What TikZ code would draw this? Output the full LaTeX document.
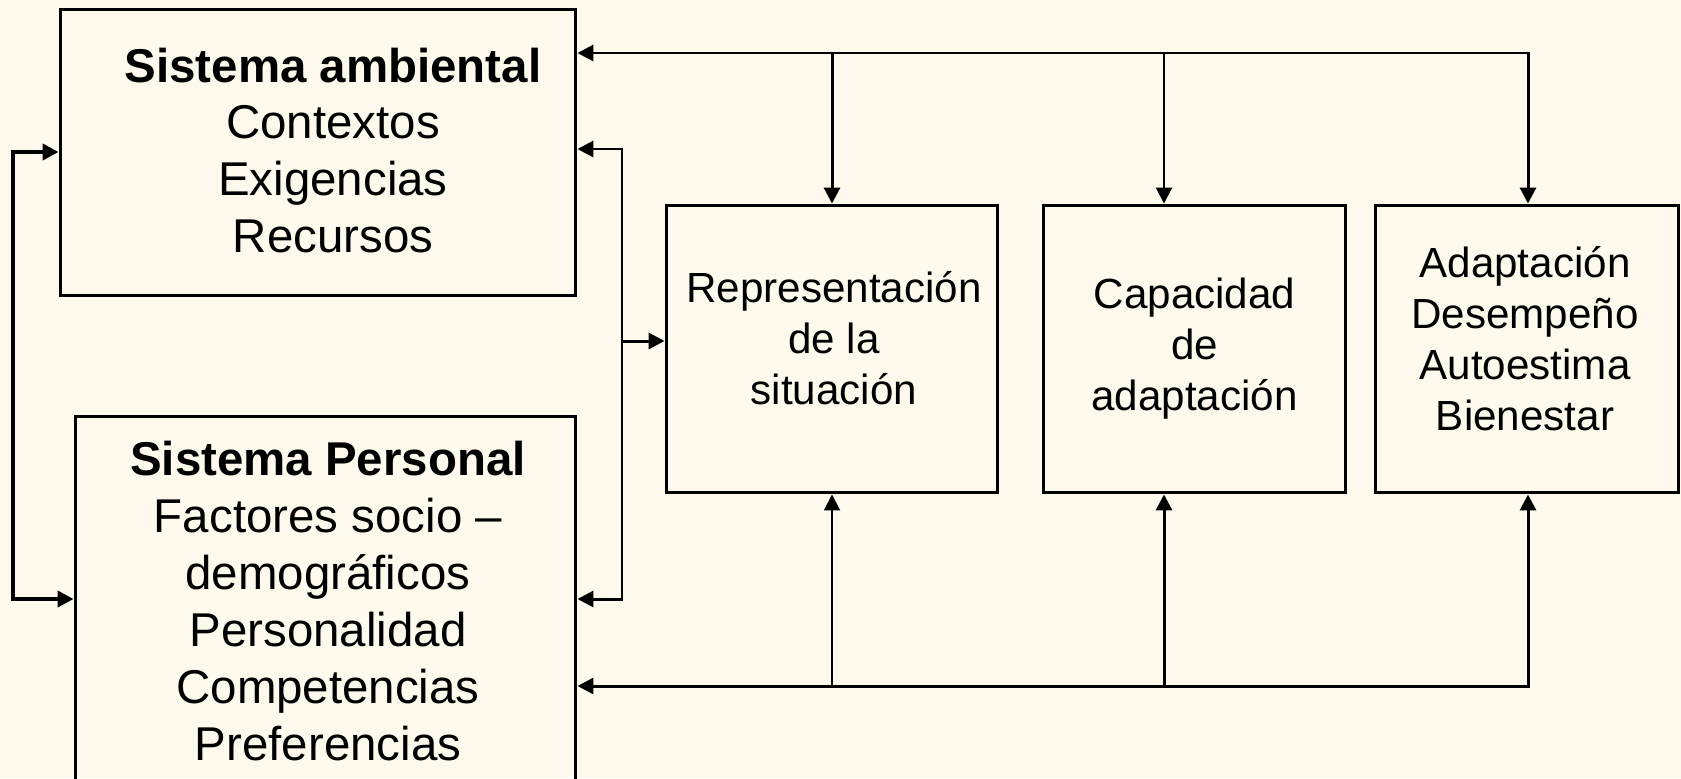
\documentclass[tikz,border=0pt]{standalone}
\usepackage{fontspec}
\setmainfont{Liberation Sans}
\usetikzlibrary{arrows.meta}
\definecolor{paper}{HTML}{FDF9EC}

\begin{document}
\begin{tikzpicture}[x=0.02cm, y=-0.02cm,
    >={Triangle[length=0.32cm, width=0.32cm]},
    box/.style={draw, line width=1.7pt, inner sep=0pt},
    txt/.style={align=center, font=\fontsize{27}{32.4}\selectfont},
    smalltxt/.style={align=center, font=\fontsize{24}{29}\selectfont},
    conn/.style={line width=1.7pt},
    thinconn/.style={line width=1.1pt},
    thickconn/.style={line width=2.3pt}]

    % --- Page and background ---
    \useasboundingbox (0,0) rectangle (1681,778);
    \clip (0,0) rectangle (1681,778);
    \fill[paper] (0,0) rectangle (1681,778);

    % --- Left boxes (text placed on its own) ---
    \node[box, minimum width=10.32cm, minimum height=5.74cm] (sa) at (318,152.5) {};
    \node[txt] (satext) at (333,150.5)
        {\textbf{Sistema ambiental}\\Contextos\\Exigencias\\Recursos};

    % the personal box runs past the bottom edge
    \node[box, minimum width=10.02cm, minimum height=8.16cm] (sp) at (325.5,620) {};
    \node[txt] (sptext) at (328,601)
        {\textbf{Sistema Personal}\\Factores socio –\\demográficos\\Personalidad\\Competencias\\Preferencias};

    % --- Right boxes ---
    \node[box, minimum width=6.64cm, minimum height=5.76cm] (rep) at (832,349) {};
    \node[smalltxt] (reptext) at (834,338) {Representación\\de la\\situación};
    \node[box, minimum width=6.06cm, minimum height=5.76cm] (cap) at (1194.5,349) {};
    \node[smalltxt] (captext) at (1194.5,349) {Capacidad\\de\\adaptación};
    \node[box, minimum width=6.08cm, minimum height=5.76cm] (ad) at (1527,349) {};
    \node[smalltxt] (adtext) at (1525,339) {Adaptación\\Desempeño\\Autoestima\\Bienestar};

    % --- Top bus ---
    \coordinate (tr) at (1528,53);
    \coordinate (capx) at (1164,0);
    \draw[conn,<->] (sa.east |- tr) -- (tr) -- (tr |- ad.north);
    \draw[conn,->] (rep.north |- tr) -- (rep.north);
    \draw[thinconn,->] (capx |- tr) -- (capx |- cap.north);

    % --- Bottom bus ---
    \coordinate (br) at (1528,686);
    \draw[conn,<->] (sp.east |- br) -- (br) -- (br |- ad.south);
    \draw[thinconn,->] (rep.south |- br) -- (rep.south);
    \draw[conn,->] (capx |- br) -- (capx |- cap.south);

    % --- Right bracket between the systems ---
    \coordinate (rt) at (622,149);
    \coordinate (rb) at (622,599);
    \coordinate (rm) at (622,341);
    \draw[conn,<->] (sa.east |- rt) -- (rt) -- (rb) -- (sp.east |- rb);
    \draw[conn,->] (rm) -- (rep.west |- rm);

    % --- Left bracket ---
    \coordinate (lt) at (13,152);
    \coordinate (lb) at (13,599);
    \draw[thickconn,<->] (sa.west |- lt) -- (lt) -- (lb) -- (sp.west |- lb);

\end{tikzpicture}
\end{document}
